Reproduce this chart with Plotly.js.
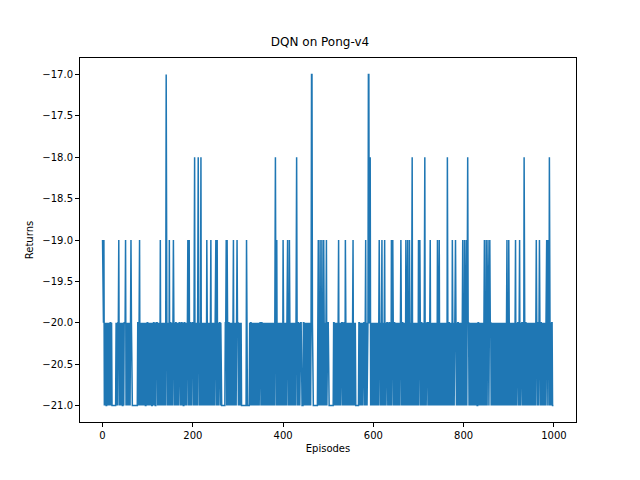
<!DOCTYPE html>
<html>
<head>
<meta charset="utf-8">
<script src="https://cdn.plot.ly/plotly-3.0.1.min.js"></script>
<style>body{margin:0;background:#fff}#plot{width:640px;height:480px}</style>
</head>
<body>
<div id="plot"></div>
<script>
// Returns per episode, one digit each: 0=-21, 1=-20, 2=-19, 3=-18, 4=-17
const returnCodes = [
  '21120101001010010110100000000010101120101101001011',
  '12010110101012100000000000001101201011010110100101',
  '10110101100101101001110101102010110101101410101020',
  '11010012101011010101110101101001101010121020110101',
  '11013010110131010130101011010102101011012010110101',
  '12012010111010000000001120210110101101012011010121',
  '10101101000000000002000000101101011010110101101011',
  '10110101101101101011011010110110133102010110101101'.slice(0, 0) +
  '10110101101101101011011010110110131020101101011010',
  '21011010112010210110101101010131011010111000011010',
  '11010110101014410000000000012010201020102101012011',
  '10000000000011010110101201010111010110210110101101',
  '10101201011000000011010110101110120101144113010110',
  '10110101011012101012011012010111010110102012101101',
  '10110101101210110101102101201021010130101101011010',
  '20121011010101301011101101201011010110101021012011',
  '01101011011010310110110102101011210101101010110120',
  '10210120131101011010101101010100110101101101012010',
  '21012101211011010110110110101101101011011011012010',
  '21011010110110120101110120101110103101101101011010',
  '10110101101210110121011010110110112012103101011000'
];
const levels = [-21, -20, -19, -18, -17];
const returns = returnCodes.join('').split('').map(c => levels[+c]);
const episodes = returns.map((_, i) => i);

const trace = {
  x: episodes, y: returns, type: 'scatter', mode: 'lines',
  line: { color: '#1f77b4', width: 1.5 }
};

const axisStyle = {
  showgrid: false, zeroline: false, showline: true, mirror: true,
  linecolor: '#000', linewidth: 1, ticks: 'outside', ticklen: 4,
  tickcolor: '#000', tickfont: { size: 10, color: '#000' }
};

const layout = {
  width: 640, height: 480,
  margin: { l: 80, r: 64, t: 58, b: 58 },
  paper_bgcolor: '#fff', plot_bgcolor: '#fff',
  font: { family: 'DejaVu Sans', color: '#000' },
  showlegend: false,
  title: { text: 'DQN on Pong-v4', font: { size: 12 }, x: 0.5, xanchor: 'center', y: 0.905, yanchor: 'bottom' },
  xaxis: Object.assign({}, axisStyle, {
    range: [-49.95, 1048.95], tickvals: [0, 200, 400, 600, 800, 1000],
    title: { text: 'Episodes', font: { size: 10 }, standoff: 4 }
  }),
  yaxis: Object.assign({}, axisStyle, {
    range: [-21.2, -16.8], dtick: 0.5, tick0: -21, tickformat: '.1f',
    title: { text: 'Returns', font: { size: 10 }, standoff: 6 }
  })
};

Plotly.newPlot('plot', [trace], layout, { displayModeBar: false, staticPlot: true });
</script>
</body>
</html>
